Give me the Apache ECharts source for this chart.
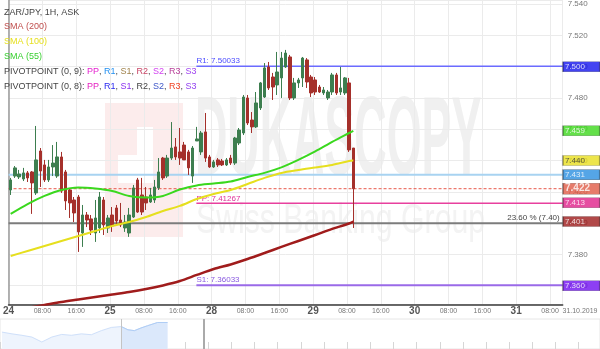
<!DOCTYPE html>
<html><head><meta charset="utf-8">
<script src="https://cdn.jsdelivr.net/npm/echarts@6/dist/echarts.min.js"></script>
<style>html,body{margin:0;padding:0;background:#fff}#c{width:600px;height:349px}</style>
</head><body><div id="c"></div>
<script>
// ---------- DATA ----------
const hourSlots = 131;
const dayLabels = ['24','25','28','29','30','31'];
const timeLabels = ['08:00','16:00'];
const endDateLabel = '31.10.2019';
// [open, close, low, high]
const candles = [
[7.4212,7.4276,7.4180,7.4289],[7.4301,7.4353,7.4289,7.4365],[7.4295,7.4314,7.4282,7.4340],[7.4282,7.4321,7.4269,7.4353],
[7.4321,7.4289,7.4263,7.4333],[7.4327,7.4257,7.4059,7.4333],[7.4193,7.4404,7.4180,7.4621],[7.4461,7.4333,7.4231,7.4480],
[7.4372,7.4276,7.4263,7.4404],[7.4276,7.4359,7.4263,7.4404],[7.4359,7.4384,7.4301,7.4499],[7.4301,7.4423,7.4289,7.4519],
[7.4423,7.4205,7.4193,7.4455],[7.4327,7.4142,7.4084,7.4340],[7.4212,7.4129,7.4033,7.4225],[7.4148,7.4065,7.4007,7.4167],
[7.4167,7.3944,7.3816,7.4180],[7.3937,7.4052,7.3848,7.4116],[7.4052,7.4020,7.3975,7.4071],[7.4027,7.3956,7.3924,7.4052],
[7.3937,7.4033,7.3880,7.4148],[7.3969,7.4167,7.3937,7.4199],[7.4148,7.3988,7.3924,7.4167],[7.3969,7.4033,7.3937,7.4052],
[7.4052,7.3982,7.3944,7.4103],[7.4097,7.4014,7.3988,7.4116],[7.4020,7.3988,7.3975,7.4129],[7.3969,7.4007,7.3944,7.4052],
[7.3937,7.4052,7.3912,7.4097],[7.4039,7.4225,7.4033,7.4244],[7.4276,7.4071,7.4065,7.4289],[7.4180,7.4071,7.4052,7.4289],
[7.4167,7.4129,7.4084,7.4231],[7.4135,7.4180,7.4129,7.4225],[7.4148,7.4231,7.4129,7.4276],[7.4225,7.4327,7.4212,7.4416],
[7.4416,7.4289,7.4276,7.4423],[7.4301,7.4416,7.4289,7.4436],[7.4416,7.4480,7.4404,7.4646],[7.4487,7.4423,7.4404,7.4544],
[7.4455,7.4416,7.4372,7.4608],[7.4499,7.4404,7.4404,7.4519],[7.4455,7.4353,7.4308,7.4468],[7.4301,7.4480,7.4257,7.4493],
[7.4525,7.4538,7.4525,7.4615],[7.4455,7.4576,7.4436,7.4589],[7.4583,7.4416,7.4391,7.4704],[7.4423,7.4359,7.4353,7.4436],
[7.4359,7.4391,7.4353,7.4404],[7.4404,7.4372,7.4359,7.4416],[7.4397,7.4372,7.4365,7.4410],[7.4372,7.4404,7.4365,7.4416],
[7.4416,7.4384,7.4372,7.4436],[7.4384,7.4544,7.4372,7.4551],[7.4512,7.4595,7.4499,7.4608],[7.4576,7.4806,7.4563,7.4819],
[7.4800,7.4640,7.4627,7.4819],[7.4659,7.4615,7.4576,7.4710],[7.4615,7.4768,7.4608,7.4838],[7.4736,7.4896,7.4723,7.4902],
[7.4806,7.4992,7.4800,7.5023],[7.4998,7.4864,7.4851,7.5030],[7.4934,7.4870,7.4787,7.4960],[7.4883,7.4966,7.4819,7.5094],
[7.4928,7.5055,7.4800,7.5094],[7.4998,7.5087,7.4992,7.5107],[7.5062,7.4800,7.4787,7.5075],[7.4800,7.4896,7.4787,7.4928],
[7.4896,7.4915,7.4864,7.4928],[7.4928,7.5055,7.4870,7.5062],[7.5043,7.4902,7.4864,7.5055],[7.4934,7.4832,7.4806,7.4947],
[7.4915,7.4838,7.4819,7.4934],[7.4870,7.4838,7.4832,7.4883],[7.4832,7.4851,7.4819,7.4870],[7.4800,7.4838,7.4787,7.4851],
[7.4838,7.4947,7.4819,7.4960],[7.4947,7.4832,7.4819,7.4960],[7.4838,7.4864,7.4819,7.4998],[7.4832,7.4928,7.4819,7.4934],
[7.4896,7.4468,7.4455,7.4928],[7.4480,7.4220,7.3969,7.4480]
];
const sma55 = [[0,7.4059],[4,7.4122],[8,7.4174],[12,7.4212],[16,7.4228],[20,7.4221],[24,7.4205],[28,7.4174],[32,7.4164],[36,7.4174],[40,7.4215],[44,7.4241],[48,7.4253],[52,7.4266],[56,7.4295],[60,7.4321],[64,7.4356],[68,7.4404],[72,7.4458],[76,7.4519],[80,7.4576],[81,7.4590]];
const sma100 = [[0,7.3790],[4,7.3822],[8,7.3854],[12,7.3886],[16,7.3918],[20,7.3950],[24,7.3982],[28,7.4007],[32,7.4039],[36,7.4078],[40,7.4110],[44,7.4154],[48,7.4186],[52,7.4212],[56,7.4250],[60,7.4289],[64,7.4321],[68,7.4340],[72,7.4356],[76,7.4372],[80,7.4397],[81,7.4400]];
const sma200 = [[0,7.3439],[4,7.3458],[8,7.3477],[12,7.3496],[16,7.3512],[20,7.3528],[24,7.3544],[28,7.3560],[32,7.3579],[36,7.3602],[40,7.3630],[44,7.3669],[48,7.3707],[52,7.3736],[56,7.3771],[60,7.3809],[64,7.3848],[68,7.3886],[72,7.3924],[76,7.3963],[80,7.3998],[81,7.4010]];
const pivotStart = 44.4;
const pivotR1 = 7.50033, pivotPP = 7.41267, pivotS1 = 7.36033;
const fibLevel = 7.40, fibLabel = '23.60 % (7.40)';
const supportLevel = 7.431;
const lastPrice = 7.422;
const badgeValues = [7.500, 7.459, 7.440, 7.431, 7.422, 7.413, 7.401, 7.360];
const navX = [0,0.43,0.86,1.29,1.72,2.15,2.58,3.0,3.43,3.86,4.29,4.72,5.15,5.44,5.72,6.0,6.29,6.72,7.15];
const navY = [5.8,5.2,4.7,4.1,2.4,4.1,5.0,4.7,5.2,4.9,6.3,7.4,7.7,6.6,6.3,7.2,8.0,9.1,9.1];
const navSelStart = 5.15, navRangeEnd = 8.7;

// ---------- CHART ----------
const FONT = '"Liberation Sans", Arial, sans-serif';
const chart = echarts.init(document.getElementById('c'), null, {renderer: 'canvas'});
const cats = Array.from({length: hourSlots}, (_, i) => String(i));

const badgeStyle = [
  {bg:'#1414ee', fg:'#fff'}, {bg:'#3dd81d', fg:'#fff'}, {bg:'#e8df1f', fg:'#333'}, {bg:'#2b8fe0', fg:'#fff'},
  {bg:'#e05a45', fg:'#fff', big:true}, {bg:'#e0218a', fg:'#fff'}, {bg:'#9e1c1c', fg:'#fff'}, {bg:'#700ff0', fg:'#fff'}
];
const badgeData = badgeValues.map((v, i) => {
  const s = badgeStyle[i];
  return {
    value: [hourSlots, v],
    symbolSize: s.big ? [37, 11] : [37, 10],
    itemStyle: {color: s.bg, borderColor: 'rgba(0,0,0,0.4)', borderWidth: 1},
    label: {
      show: true, position: [3, '50%'], align: 'left', verticalAlign: 'middle', formatter: v.toFixed(3),
      color: s.fg, fontFamily: FONT, fontSize: s.big ? 10 : 8,
      fontWeight: s.big ? 'bold' : 'normal'
    }
  };
});

function hLine(name, x0, v, color, width, extra) {
  return Object.assign({
    type: 'line', name, xAxisIndex: 1, yAxisIndex: 0, z: 1,
    data: [[x0, v], [hourSlots, v]],
    symbol: 'circle', symbolSize: 0, showSymbol: true, silent: true,
    lineStyle: {color, width}, itemStyle: {color}
  }, extra || {});
}
function startLabel(x0, v, text, color) {
  return [{value: [x0, v], label: {show: true, position: 'top', align: 'left', distance: 1,
    formatter: text, color, fontSize: 8, fontFamily: FONT}}, [hourSlots, v]];
}

const pivotLeg = n => '{g|PIVOTPOINT (0, ' + n + '): }' +
  ['PP','R1','S1','R2','S2','R3','S3'].map((k, i) => '{c' + n + i + '|' + k + '}').join('{g|, }');
const rs = c => ({fill: c, font: '9px ' + FONT});
const legRich = {g: rs('#444')};
const cols9 = ['#e520d0','#2390f0','#a0824a','#c84566','#d23ff0','#b8409a','#a043f0'];
const cols8 = ['#e520c0','#2a2af0','#8a2ff0','#444444','#4058c8','#f04224','#9442f0'];
cols9.forEach((c, i) => legRich['c9' + i] = rs(c));
cols8.forEach((c, i) => legRich['c8' + i] = rs(c));
legRich.s2 = rs('#c0504f');
legRich.s1 = rs('#e6e020');
legRich.s5 = rs('#38d030');

const legendLines = [
  {t: '{g|ZAR/JPY, 1H, ASK}', y: 12.7},
  {t: '{s2|SMA (200)}', y: 26.5},
  {t: '{s1|SMA (100)}', y: 41.8},
  {t: '{s5|SMA (55)}', y: 56.5},
  {t: pivotLeg(9), y: 71.5},
  {t: pivotLeg(8), y: 86.5}
];

const navSel = navX.map((x, i) => [x, navY[i]]).filter(p => p[0] >= navSelStart);

const option = {
  animation: false,
  backgroundColor: '#fff',
  grid: [
    {left: 0, right: 37.3, top: 0, bottom: 44.5},
    {left: -2, right: -2, top: 319, bottom: -2, show: true, borderColor: '#e6e6e6', borderWidth: 1, backgroundColor: 'transparent'}
  ],
  xAxis: [
    {type: 'category', data: cats, gridIndex: 0, boundaryGap: true, show: false},
    {type: 'value', gridIndex: 0, min: 0, max: hourSlots, interval: 8, position: 'bottom',
      axisLine: {show: true, lineStyle: {color: '#3a3a3a', width: 1.5}},
      axisTick: {show: false},
      splitLine: {show: true, lineStyle: {color: '#ebebeb', width: 1}},
      axisLabel: {
        margin: 0, showMinLabel: true, showMaxLabel: true,
        formatter: v => {
          if (v % 24 === 0) { const d = dayLabels[v / 24]; return d ? '{d|' + d + '}' : ''; }
          if (v % 8 === 0 && v < hourSlots) return '{t|' + timeLabels[(v % 24) / 8 - 1] + '}';
          return '';
        },
        rich: {
          d: {fontSize: 10, fontWeight: 'bold', color: '#555', fontFamily: FONT, lineHeight: 14},
          t: {fontSize: 7, color: '#777', fontFamily: FONT, lineHeight: 14}
        }
      }
    },
    {type: 'value', gridIndex: 1, min: -0.086, max: 25.83, interval: 1,
      axisLine: {show: false}, axisLabel: {show: false}, splitLine: {show: false},
      axisTick: {show: true, inside: true, length: 7, lineStyle: {color: '#d6d6d6'}}}
  ],
  yAxis: [
    {type: 'value', gridIndex: 0, position: 'right', min: 7.348, max: 7.5426, splitNumber: 10, scale: true,
      axisLine: {show: true, lineStyle: {color: '#9a9a9a', width: 1.5}},
      axisTick: {show: false},
      splitLine: {show: true, lineStyle: {color: '#ebebeb', width: 1}},
      axisLabel: {showMinLabel: false, showMaxLabel: false, margin: 5, fontSize: 8, color: '#777', fontFamily: FONT,
        formatter: v => v.toFixed(3)}
    },
    {type: 'value', gridIndex: 1, min: 0, max: 10.3, show: false}
  ],
  graphic: [
    // watermark logo
    {type: 'rect', z: -1, silent: true, shape: {x: 105, y: 103, width: 78, height: 24}, style: {fill: '#fcecec'}},
    {type: 'rect', z: -1, silent: true, shape: {x: 105, y: 127, width: 32, height: 28}, style: {fill: '#fcecec'}},
    {type: 'rect', z: -1, silent: true, shape: {x: 153, y: 127, width: 30, height: 56}, style: {fill: '#fcecec'}},
    {type: 'rect', z: -1, silent: true, shape: {x: 105, y: 155, width: 13, height: 28}, style: {fill: '#fcecec'}},
    {type: 'rect', z: -1, silent: true, shape: {x: 105, y: 183, width: 78, height: 54}, style: {fill: '#fcecec'}},
    {type: 'text', z: -1, silent: true, x: 195, y: 143, scaleX: 0.40,
      style: {text: 'DUKASCOPY', font: 'bold 112px ' + FONT, fill: '#f0f0f0', verticalAlign: 'middle', align: 'left'}},
    {type: 'text', z: -1, silent: true, x: 196, y: 221, scaleX: 0.72,
      style: {text: 'Swiss Banking Group', font: '42px ' + FONT, fill: '#f3f3f3', verticalAlign: 'middle', align: 'left'}},
    // legend
    ...legendLines.map(l => ({type: 'text', x: 4, y: l.y, silent: true, z: 10,
      style: {text: l.t, rich: legRich, font: '9px ' + FONT, verticalAlign: 'middle', align: 'left'}})),
    {type: 'text', x: 580, y: 311.5, silent: true,
      style: {text: endDateLabel, font: '7px ' + FONT, fill: '#777', align: 'center', verticalAlign: 'middle'}}
  ],
  series: [
    {type: 'candlestick', xAxisIndex: 0, yAxisIndex: 0, data: candles, barWidth: 3, z: 3,
      itemStyle: {color: '#3d7e4f', color0: '#a5302b', borderColor: '#3d7e4f', borderColor0: '#a5302b', borderWidth: 1}},
    {type: 'line', xAxisIndex: 0, yAxisIndex: 0, data: sma200, smooth: 0.3, symbol: 'none', z: 4,
      lineStyle: {color: '#a01c1c', width: 2.5}},
    {type: 'line', xAxisIndex: 0, yAxisIndex: 0, data: sma100, smooth: 0.3, symbol: 'none', z: 4,
      lineStyle: {color: '#e6df1e', width: 2}},
    {type: 'line', xAxisIndex: 0, yAxisIndex: 0, data: sma55, smooth: 0.3, symbol: 'none', z: 4,
      lineStyle: {color: '#3ad81e', width: 2}},
    hLine('support', 0, supportLevel, '#a8d3f1', 2),
    hLine('price', 0, lastPrice, '#e8574a', 1, {lineStyle: {color: '#e8574a', width: 1, type: [3, 2]}}),
    hLine('fib', 0, fibLevel, '#7c7c7c', 2, {
      data: [[0, fibLevel], {value: [hourSlots, fibLevel], label: {show: true, position: 'top', align: 'right', distance: 1,
        offset: [-3, 0], formatter: fibLabel, color: '#444', fontSize: 8, fontFamily: FONT}}]
    }),
    hLine('R1', pivotStart, pivotR1, '#6b6bff', 1.5, {data: startLabel(pivotStart, pivotR1, 'R1: ' + pivotR1.toFixed(5), '#4b4bff')}),
    hLine('PP', pivotStart, pivotPP, '#e8409e', 1.5, {data: startLabel(pivotStart, pivotPP, 'PP: ' + pivotPP.toFixed(5), '#e0309a')}),
    hLine('S1', pivotStart, pivotS1, '#9a6ae8', 2, {data: startLabel(pivotStart, pivotS1, 'S1: ' + pivotS1.toFixed(5), '#8a5ae0')}),
    // price badges on the right axis
    {type: 'scatter', xAxisIndex: 1, yAxisIndex: 0, data: badgeData, symbol: 'rect', symbolOffset: [18.7, 0],
      clip: false, silent: true, z: 8},
    // navigator
    {type: 'line', xAxisIndex: 2, yAxisIndex: 1, data: navX.map((x, i) => [x, navY[i]]), symbol: 'none', silent: true,
      lineStyle: {color: '#cfe0fa', width: 1}, areaStyle: {color: '#eef4fd', opacity: 1},
      markLine: {silent: true, symbol: 'none', label: {show: false},
        data: [{xAxis: navSelStart, lineStyle: {color: '#c4c4c4', width: 1, type: 'solid'}},
               {xAxis: navRangeEnd, lineStyle: {color: '#aaaaaa', width: 2, type: 'solid'}}]}},
    {type: 'line', xAxisIndex: 2, yAxisIndex: 1, data: navSel, symbol: 'none', silent: true,
      lineStyle: {color: '#afcdf5', width: 1}, areaStyle: {color: '#dbe8fb', opacity: 1}}
  ]
};
chart.setOption(option);
</script></body></html>
